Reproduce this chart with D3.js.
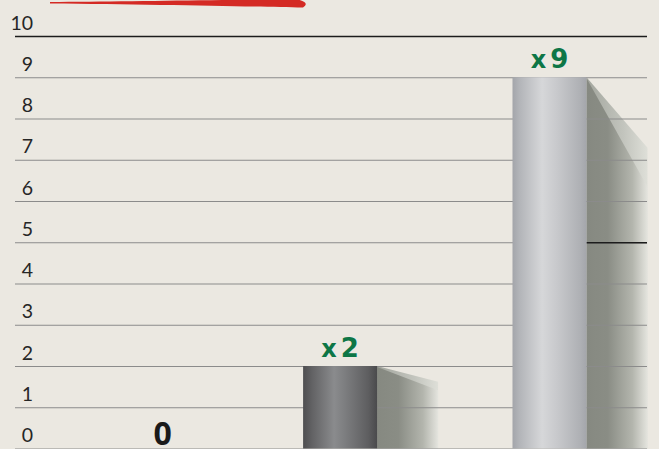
<!DOCTYPE html>
<meta charset="utf-8">
<html>
<script src="https://d3js.org/d3.v7.min.js"></script>
<style>
  body { margin: 0; background: #ebe8e1; }
</style>
<div id="chart"></div>
<script>

// data
var categories = ["base", "double", "ninefold"];
var values = [0, 2, 9];
var valueLabels = ["0", "x2", "x9"];
var yTicks = [0, 1, 2, 3, 4, 5, 6, 7, 8, 9, 10];

var width = 659,
    height = 449;

var svg = d3.select("#chart")
  .append("svg")
    .attr("width", width)
    .attr("height", height)
    .style("display", "block");

svg.append("rect")
  .attr("width", width)
  .attr("height", height)
  .attr("fill", "#ebe8e1");

var y = d3.scaleLinear()
  .domain([0, 10])
  .range([448.5, 36]);

// centres of the bars
var x = d3.scalePoint()
  .domain(categories)
  .range([130.7, 549.5]);

var barW = 74,
    shadowW = 61,
    gridLeft = 15,
    gridRight = 647;

var defs = svg.append("defs");

// cylinder look for the bars
function cylinder(id, stops) {
  var g = defs.append("linearGradient").attr("id", id)
    .attr("x1", "0%").attr("x2", "100%").attr("y1", "0%").attr("y2", "0%");
  stops.forEach(function(s) {
    g.append("stop").attr("offset", s[0]).attr("stop-color", s[1]);
  });
}
cylinder("darkBar", [["0%", "#4e4e50"], ["12%", "#626264"], ["42%", "#8a8b8d"], ["55%", "#7e7f81"], ["88%", "#5e5e60"], ["100%", "#4a4a4c"]]);
cylinder("lightBar", [["0%", "#a3a5aa"], ["10%", "#b3b5b9"], ["40%", "#d6d7d9"], ["60%", "#c8c9cc"], ["92%", "#aeb0b4"], ["100%", "#a4a6ab"]]);
cylinder("shadowGrad", [["0%", "#868981"], ["35%", "#8a8d85"], ["75%", "#b3b5ad"], ["100%", "#e4e4de"]]);
cylinder("shadowLight", [["0%", "#a3a69e"], ["60%", "#c2c4bd"], ["100%", "#dedfd8"]]);

// red brush stroke at the top
svg.append("path")
  .attr("d", "M50,2 C120,1.5 220,0 296,-1 Q311,2.5 303,7.5 C250,6.3 150,4.4 50,3.4 Z")
  .attr("fill", "#d42a24");

var bars = categories.map(function(c, i) {
  return { cat: c, value: values[i], label: valueLabels[i] };
});
var shown = bars.filter(function(d) { return d.value > 0; });

// shadows behind the bars
var sh = svg.append("g");
shown.forEach(function(d) {
  var x0 = x(d.cat) + barW / 2,
      x1 = x0 + shadowW,
      top = y(d.value),
      base = y(0),
      h = base - top;
  sh.append("path")
    .attr("d", "M" + x0 + "," + top + "L" + x1 + "," + (top + h * 0.19) + "L" + x1 + "," + base + "L" + x0 + "," + base + "Z")
    .attr("fill", "url(#shadowLight)");
  sh.append("path")
    .attr("d", "M" + x0 + "," + (top + 1) + "L" + x1 + "," + (top + h * 0.295) + "L" + x1 + "," + base + "L" + x0 + "," + base + "Z")
    .attr("fill", "url(#shadowGrad)");
});

// gridlines
svg.append("g")
  .selectAll("line")
  .data(yTicks)
  .enter().append("line")
    .attr("x1", gridLeft)
    .attr("x2", gridRight)
    .attr("y1", function(d) { return y(d) + 0.5; })
    .attr("y2", function(d) { return y(d) + 0.5; })
    .attr("stroke", function(d) { return d == 10 ? "#1c1c1c" : "#8b8b8b"; })
    .attr("stroke-width", function(d) { return d == 10 ? 1.3 : 1.1; });

// dark seam over the tall bar's shadow
svg.append("line")
  .attr("x1", x("ninefold") + barW / 2)
  .attr("x2", gridRight)
  .attr("y1", y(5) + 0.5)
  .attr("y2", y(5) + 0.5)
  .attr("stroke", "#1c1c1c")
  .attr("stroke-width", 1.6);

// y tick labels
svg.append("g")
  .selectAll("text")
  .data(yTicks)
  .enter().append("text")
    .attr("x", 33)
    .attr("y", function(d) { return y(d) - 6.5; })
    .attr("text-anchor", "end")
    .attr("font-family", "Lato")
    .attr("font-size", "19.5px")
    .attr("fill", "#262626")
    .text(function(d) { return d; });

// bars
svg.append("g")
  .selectAll("rect")
  .data(shown)
  .enter().append("rect")
    .attr("x", function(d) { return x(d.cat) - barW / 2; })
    .attr("y", function(d) { return y(d.value); })
    .attr("width", barW)
    .attr("height", function(d) { return y(0) - y(d.value); })
    .attr("fill", function(d) { return d.value > 5 ? "url(#lightBar)" : "url(#darkBar)"; });

// value labels
var lab = svg.append("g")
  .selectAll("text")
  .data(bars)
  .enter().append("text")
    .attr("x", function(d) { return x(d.cat) + (d.value == 0 ? 32 : 0); })
    .attr("y", function(d) { return d.value == 0 ? y(0) - 4 : y(d.value) - 9.5; })
    .attr("text-anchor", "middle")
    .attr("font-family", function(d) { return d.value == 0 ? "Open Sans" : "DejaVu Sans"; })
    .attr("font-weight", "bold")
    .attr("fill", function(d) { return d.value == 0 ? "#1a1a1a" : "#0d7646"; })
    .attr("font-size", function(d) { return d.value == 0 ? "32px" : "26px"; });

lab.each(function(d) {
  var t = d3.select(this);
  if (d.label.charAt(0) == "x") {
    t.append("tspan").attr("font-size", "24px").text("x");
    t.append("tspan").attr("dx", "4").text(d.label.slice(1));
  } else {
    t.text(d.label);
  }
});

</script>
</html>
